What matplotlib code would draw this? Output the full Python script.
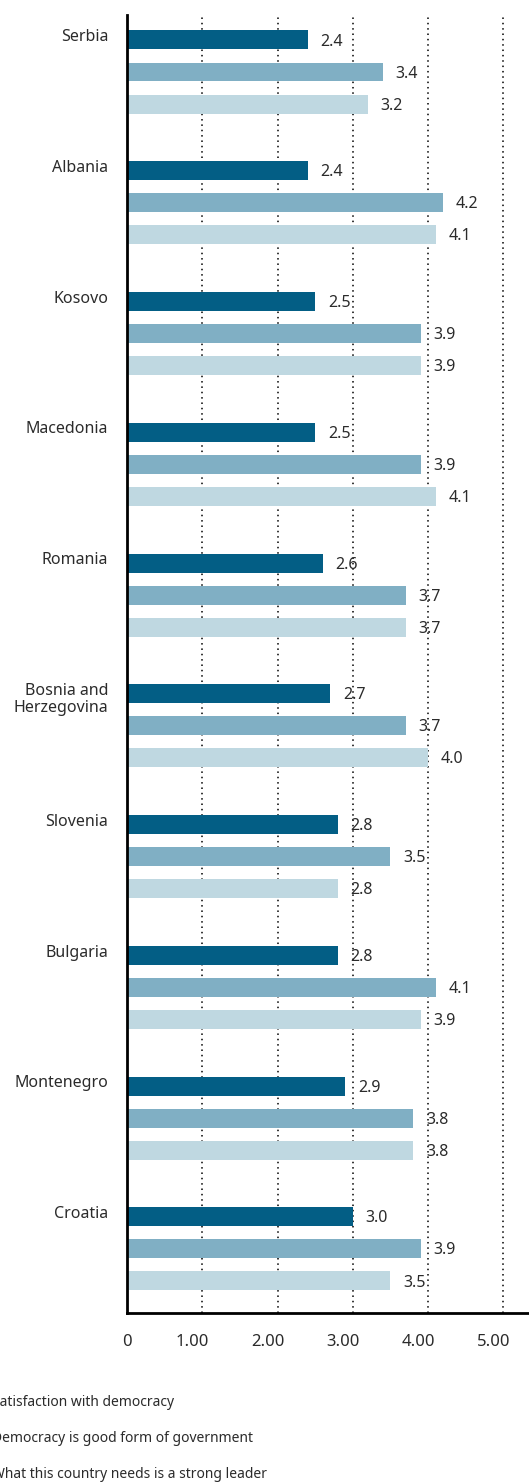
import matplotlib.pyplot as plt
import matplotlib.transforms as mtransforms
import numpy as np

plt.rcParams['font.family'] = ['Noto Sans', 'DejaVu Sans']
plt.rcParams['font.weight'] = 'light'

paises = ['Serbia', 'Albania', 'Kosovo', 'Macedonia', 'Romania',
          'Bosnia and\nHerzegovina', 'Slovenia', 'Bulgaria', 'Montenegro', 'Croatia']
satisfacao = [2.4, 2.4, 2.5, 2.5, 2.6, 2.7, 2.8, 2.8, 2.9, 3.0]
boa_forma = [3.4, 4.2, 3.9, 3.9, 3.7, 3.7, 3.5, 4.1, 3.8, 3.9]
lider_forte = [3.2, 4.1, 3.9, 4.1, 3.7, 4.0, 2.8, 3.9, 3.8, 3.5]
series = ['Satisfaction with democracy',
          'Democracy is good form of government',
          'What this country needs is a strong leader']
ticks = [0, 1, 2, 3, 4, 5]
tick_labels = ['0', '1.00', '2.00', '3.00', '4.00', '5.00']

cores = ['#035e85', '#80afc4', '#bfd8e1']
texto = '#2b2b2b'

fig = plt.figure(figsize=(5.29, 14.83), dpi=100)
ax = fig.add_axes([127 / 529, 1 - 1313 / 1483, 1 - 127 / 529, (1313 - 15) / 1483])

pos = np.arange(len(paises))
passo = 0.245
altura = 0.145
for k, (vals, cor) in enumerate(zip([satisfacao, boa_forma, lider_forte], cores)):
    y = pos + (k - 1) * passo
    ax.barh(y, vals, height=altura, color=cor, zorder=2)
    for yy, v in zip(y, vals):
        ax.text(v + 0.17, yy + 0.012, '%.1f' % v, va='center', ha='left',
                fontsize=11.5, color=texto, zorder=3)

for i, nome in enumerate(paises):
    ax.text(-0.25, i - passo - altura / 2 - 0.01, nome, ha='right', va='top',
            fontsize=11.5, color=texto, linespacing=1.05)

ax.set_xlim(0, 5.34)
ax.set_ylim(9.49, -0.436)
ax.set_xticks(ticks)
ax.set_xticklabels(tick_labels)
ax.set_yticks([])
ax.tick_params(axis='x', length=0, pad=15, labelsize=12, labelcolor=texto)

# rotulos do eixo x ficam um pouco a esquerda das linhas
desloca = mtransforms.ScaledTranslation(-10 / 100, 0, fig.dpi_scale_trans)
for lbl in ax.get_xticklabels()[1:]:
    lbl.set_transform(lbl.get_transform() + desloca)

for x in ticks[1:]:
    ax.axvline(x, color='black', lw=1.1, ls=(0, (1, 2.5)), zorder=1)

for lado in ['top', 'right']:
    ax.spines[lado].set_visible(False)
for lado in ['left', 'bottom']:
    ax.spines[lado].set_linewidth(2)
    ax.spines[lado].set_color('black')
ax.spines['left'].set_zorder(4)

# legenda sem as caixas de cor
for nome, yl in zip(series, [1402, 1438, 1475]):
    fig.text(-8 / 529, 1 - yl / 1483, nome, ha='left', va='center',
             fontsize=10, color=texto)

fig.savefig('out.png', dpi=100)
